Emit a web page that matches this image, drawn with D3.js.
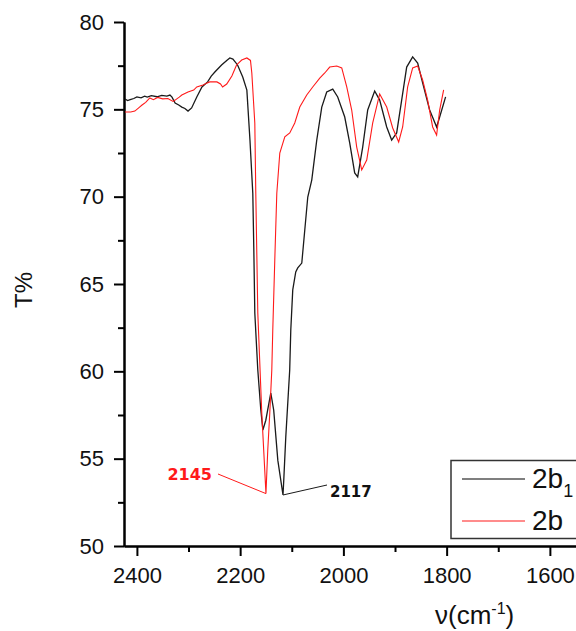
<!DOCTYPE html>
<html>
<head>
<meta charset="utf-8">
<script src="https://cdn.jsdelivr.net/npm/d3@7/dist/d3.min.js"></script>
<style>
  body { margin: 0; background: #fff; }
  svg { display: block; font-family: "Liberation Sans", Arial, sans-serif; }
  .axis path, .axis line { stroke: #000; stroke-width: 2px; }
  .axis text { font-size: 22px; fill: #111; }
</style>
</head>
<body>
<svg id="svg"></svg>
<script>
// 2b1 spectrum (black)
var wn2b1 = [2423, 2418, 2413, 2406, 2400, 2392, 2385, 2380, 2372, 2361, 2352, 2342, 2336, 2332, 2326, 2319, 2313, 2307, 2301, 2294,
  2284, 2274, 2263, 2256, 2249, 2236, 2226, 2220, 2214, 2205, 2195, 2187, 2181, 2175.5, 2173.6, 2171.6, 2165.8, 2160, 2156, 2150.3,
  2140.6, 2135, 2127, 2117, 2115.5, 2111.6, 2104, 2101.9, 2098.1, 2092.3, 2088.4, 2080.6, 2074.8, 2069, 2061.3, 2051.6, 2041.9, 2032.3,
  2020.6, 2011, 1997.4, 1987.7, 1978.1, 1972.3, 1962.6, 1952.9, 1939.4, 1929.7, 1916.1, 1906.5, 1896.8, 1887.1, 1877.4, 1865.8, 1856.1,
  1846.5, 1832.9, 1819.4, 1813.5, 1802];
var t2b1 = [75.59, 75.50, 75.55, 75.62, 75.71, 75.66, 75.75, 75.70, 75.78, 75.72, 75.80, 75.76, 75.82, 75.70, 75.36, 75.25, 75.13, 75.05, 74.90, 75.08,
  75.71, 76.28, 76.57, 76.90, 77.14, 77.54, 77.80, 77.94, 77.88, 77.54, 76.85, 76.10, 73.24, 70.20, 67.12, 63.34, 60.08, 57.80, 56.64, 57.20,
  58.76, 57.78, 54.90, 52.92, 53.78, 56.24, 60.08, 62.37, 64.66, 65.69, 65.92, 66.20, 68.09, 69.98, 70.95, 73.24, 75.13, 75.99,
  76.16, 75.71, 74.56, 73.07, 71.36, 71.13, 72.84, 74.96, 76.05, 75.53, 73.99, 73.24, 73.65, 75.53, 77.42, 78.00, 77.65,
  76.51, 74.96, 73.99, 74.56, 75.71];

// 2b spectrum (red)
var wn2b = [2423, 2412, 2404, 2396, 2390, 2383, 2375, 2368, 2360, 2350, 2340, 2330, 2326, 2318, 2313, 2301, 2290, 2284, 2272, 2265,
  2259, 2245, 2238, 2234, 2226, 2216, 2207, 2197, 2187, 2180, 2177.4, 2171.6, 2169.7, 2165.8, 2158.1, 2150, 2146.5, 2142.6, 2138.7, 2136.8,
  2132.9, 2129, 2123.2, 2113.5, 2103.9, 2094.2, 2084.5, 2071, 2059.4, 2045.8, 2036.1, 2026.5, 2012.9, 2003.2, 1993.5, 1983.9, 1974.2, 1964.5,
  1954.8, 1943.2, 1929.7, 1916.1, 1904.5, 1892.9, 1885.2, 1875.5, 1865.8, 1856.1, 1846.5, 1836.8, 1827.1, 1819.4, 1813.5, 1805.8];
var t2b = [74.85, 74.85, 74.90, 75.10, 75.25, 75.40, 75.65, 75.55, 75.68, 75.60, 75.62, 75.45, 75.53, 75.70, 75.82, 75.99, 76.10, 76.28, 76.39, 76.50,
  76.57, 76.57, 76.45, 76.28, 76.45, 76.91, 77.54, 77.82, 77.94, 77.80, 77.08, 74.22, 70.20, 63.34, 57.61, 53.00, 55.50, 57.61, 60.08, 62.37,
  66.38, 70.20, 72.50, 73.42, 73.65, 74.22, 75.13, 75.82, 76.28, 76.79, 77.08, 77.42, 77.48, 77.37, 76.28, 74.96, 72.84, 71.53,
  72.10, 74.22, 75.88, 75.13, 73.93, 73.13, 73.99, 76.28, 77.37, 77.48, 76.68, 75.53, 73.99, 73.53, 74.96, 76.11];

var xMajor = [2400, 2200, 2000, 1800, 1600];
var xMinor = [2300, 2100, 1900, 1700];
var yMajor = [50, 55, 60, 65, 70, 75, 80];
var yMinor = [52.5, 57.5, 62.5, 67.5, 72.5, 77.5];
var peaks = [{label: "2145", wn: 2150, t: 53.0, series: "2b"}, {label: "2117", wn: 2117, t: 52.92, series: "2b1"}];

var width = 576, height = 631;
var svg = d3.select("#svg").attr("width", width).attr("height", height);

var x = d3.scaleLinear().domain([2425, 1500]).range([124, 601.5]);
var y = d3.scaleLinear().domain([50, 80]).range([546, 22]);

// axes
svg.append("g").attr("class", "axis").attr("transform", "translate(0," + y(50) + ")")
  .call(d3.axisBottom(x).tickValues(xMajor).tickSize(10).tickSizeOuter(0).tickPadding(11).tickFormat(d3.format("d")));
svg.append("g").attr("class", "axis").attr("transform", "translate(0," + y(50) + ")")
  .call(d3.axisBottom(x).tickValues(xMinor).tickSize(6).tickSizeOuter(0).tickFormat(""));

svg.append("g").attr("class", "axis").attr("transform", "translate(" + x(2425) + ",0)")
  .call(d3.axisLeft(y).tickValues(yMajor).tickSize(10).tickSizeOuter(0).tickPadding(10).tickFormat(d3.format("d")));
svg.append("g").attr("class", "axis").attr("transform", "translate(" + x(2425) + ",0)")
  .call(d3.axisLeft(y).tickValues(yMinor).tickSize(6).tickSizeOuter(0).tickFormat(""));

// axis titles
svg.append("text")
  .attr("transform", "translate(32,290) rotate(-90)")
  .attr("text-anchor", "middle")
  .style("font-size", "24px").style("fill", "#111")
  .text("T%");

var xt = svg.append("text").attr("x", 435).attr("y", 624)
  .style("font-size", "26px").style("fill", "#111");
xt.append("tspan").text("ν(cm");
xt.append("tspan").attr("dy", -10).style("font-size", "16px").text("-1");
xt.append("tspan").attr("dy", 10).text(")");

// spectra
var line = d3.line()
  .x(function(d) { return x(d[0]); })
  .y(function(d) { return y(d[1]); });

var black = d3.zip(wn2b1, t2b1);
var red = d3.zip(wn2b, t2b);

svg.append("path").datum(black).attr("d", line)
  .attr("fill", "none").attr("stroke", "#1a1a1a").attr("stroke-width", 1.3);
svg.append("path").datum(red).attr("d", line)
  .attr("fill", "none").attr("stroke", "#ff1a1a").attr("stroke-width", 1.1);

// peak labels
var redPk = peaks[0], blkPk = peaks[1];
svg.append("line")
  .attr("x1", x(redPk.wn)).attr("y1", y(redPk.t))
  .attr("x2", 218).attr("y2", 474)
  .attr("stroke", "#ff1a1a").attr("stroke-width", 1);
svg.append("text").attr("x", 212).attr("y", 480).attr("text-anchor", "end")
  .style("font-family", "'DejaVu Sans', Verdana, sans-serif").style("font-weight", "bold")
  .style("font-size", "16px").style("fill", "#ff1a1a")
  .text(redPk.label);

svg.append("line")
  .attr("x1", x(blkPk.wn)).attr("y1", y(blkPk.t))
  .attr("x2", 327).attr("y2", 485)
  .attr("stroke", "#1a1a1a").attr("stroke-width", 1);
svg.append("text").attr("x", 330).attr("y", 497)
  .style("font-family", "'DejaVu Sans', Verdana, sans-serif").style("font-weight", "bold")
  .style("font-size", "15px").style("fill", "#111")
  .text(blkPk.label);

// legend
var lg = svg.append("g");
lg.append("rect").attr("x", 451).attr("y", 460.5).attr("width", 140).attr("height", 78)
  .attr("fill", "#fff").attr("stroke", "#333").attr("stroke-width", 1.5);
lg.append("line").attr("x1", 462).attr("x2", 525).attr("y1", 479).attr("y2", 479)
  .attr("stroke", "#555").attr("stroke-width", 1.3);
lg.append("line").attr("x1", 462).attr("x2", 525).attr("y1", 521).attr("y2", 521)
  .attr("stroke", "#ff6666").attr("stroke-width", 1.6);
var t1 = lg.append("text").attr("x", 532).attr("y", 488).style("font-size", "28px").style("fill", "#111");
t1.append("tspan").text("2b");
t1.append("tspan").attr("dy", 9).style("font-size", "18px").text("1");
lg.append("text").attr("x", 532).attr("y", 530).style("font-size", "28px").style("fill", "#111").text("2b");
</script>
</body>
</html>
